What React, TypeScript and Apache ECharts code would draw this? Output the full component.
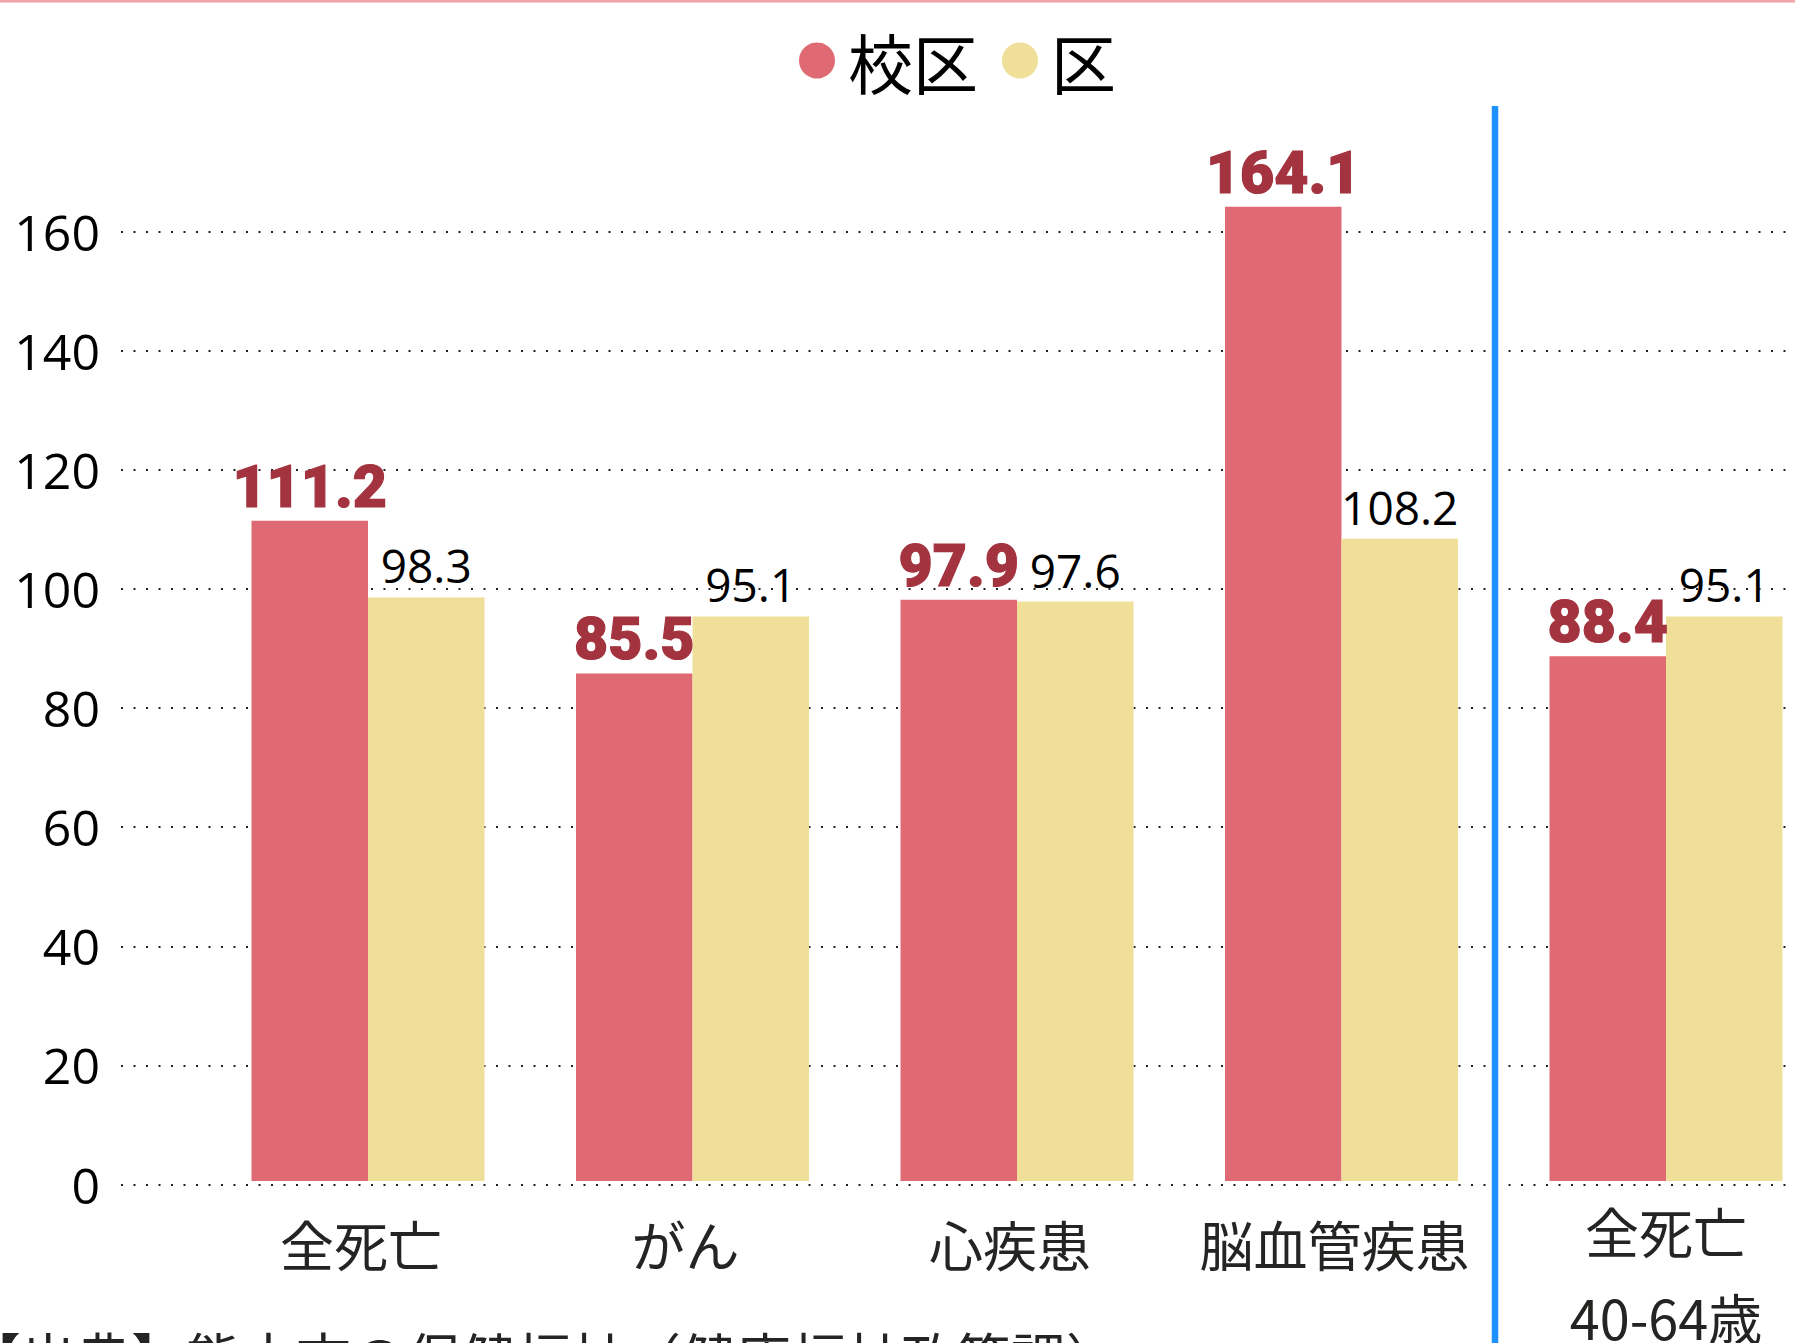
import React, { useEffect, useRef } from "react";
import * as echarts from "echarts";

const categories = ["全死亡", "がん", "心疾患", "脳血管疾患", "全死亡\n40-64歳"];
const schoolValues = [111.2, 85.5, 97.9, 164.1, 88.4];
const wardValues = [98.3, 95.1, 97.6, 108.2, 95.1];
const seriesNames = ["校区", "区"];
const yMin = 0;
const yMax = 180;
const yInterval = 20;
const sourceText = "【出典】熊本市の保健福祉（健康福祉政策課）";

const W = 1795;
const H = 1343;
const CW = 1840;
const CJK = '"Noto Sans CJK JP", "Noto Sans", sans-serif';
const LATIN = '"Open Sans", "Noto Sans", sans-serif';

export default function App() {
  const ref = useRef<HTMLDivElement>(null);
  useEffect(() => {
    if (!ref.current) return;
    const chart = echarts.init(ref.current, undefined, { renderer: "svg" });
    const plotTop = 112.4;
    const plotBottom = H - 1184.5;
    const option: any = {
      animation: false,
      backgroundColor: "#ffffff",
      legend: {
        data: seriesNames,
        icon: "circle",
        left: 794,
        top: 23,
        itemWidth: 52,
        itemHeight: 36,
        itemGap: 24,
        textStyle: { fontSize: 65, fontFamily: CJK, color: "#000" },
      },
      grid: [
        { left: 121, right: CW - W, top: plotTop, bottom: plotBottom },
        { left: 205.75, right: CW - 1828.25, top: plotTop, bottom: plotBottom },
      ],
      xAxis: [
        { type: "value", gridIndex: 0, min: 0, max: 1, show: false },
        {
          type: "category",
          gridIndex: 1,
          data: categories,
          axisLine: { show: false },
          axisTick: { show: false },
          axisLabel: {
            interval: 0,
            margin: 6,
            color: "#252423",
            fontFamily: CJK,
            fontSize: 54,
            formatter: (v: string) =>
              v.indexOf("\n") >= 0
                ? v.split("\n").map((s) => `{m|${s}}`).join("\n")
                : `{s|${v}}`,
            rich: {
              s: { fontSize: 54, lineHeight: 112, fontFamily: CJK, color: "#252423", padding: [0, 14, 0, 0] },
              m: { fontSize: 54, lineHeight: 86, fontFamily: CJK, color: "#252423" },
            },
          },
        },
      ],
      yAxis: [
        {
          type: "value",
          gridIndex: 0,
          min: yMin,
          max: yMax,
          interval: yInterval,
          axisLine: { show: false },
          axisTick: { show: false },
          axisLabel: {
            showMaxLabel: false,
            margin: 21,
            color: "#000",
            fontSize: 50,
            fontFamily: LATIN,
          },
          splitLine: {
            show: true,
            showMaxLine: false,
            lineStyle: { type: [2, 10.5], width: 2, color: "#222" },
          },
        },
        {
          type: "value",
          gridIndex: 1,
          min: yMin,
          max: yMax,
          interval: yInterval,
          show: false,
          splitLine: { show: false },
        },
      ],
      series: [
        {
          name: seriesNames[0],
          type: "bar",
          xAxisIndex: 1,
          yAxisIndex: 1,
          data: schoolValues,
          barGap: "0%",
          barCategoryGap: "28.2%",
          itemStyle: { color: "#DF6A73" },
          label: {
            show: true,
            position: "top",
            distance: 5,
            color: "#A3333F",
            fontSize: 59,
            fontWeight: 900,
            fontFamily: '"Roboto", "DejaVu Sans", sans-serif',
            textBorderColor: "#A3333F",
            textBorderWidth: 1.2,
            formatter: (p: any) => p.value.toFixed(1),
          },
        },
        {
          name: seriesNames[1],
          type: "bar",
          xAxisIndex: 1,
          yAxisIndex: 1,
          data: wardValues,
          barGap: "0%",
          barCategoryGap: "28.2%",
          itemStyle: { color: "#EFDF99" },
          label: {
            show: true,
            position: "top",
            distance: 9,
            color: "#000",
            fontSize: 46,
            fontFamily: LATIN,
            formatter: (p: any) => p.value.toFixed(1),
          },
        },
      ],
      graphic: [
        {
          type: "rect",
          shape: { x: 0, y: 0, width: W, height: 2.5 },
          style: { fill: "#F2A2AA" },
          z: 10,
        },
        {
          type: "line",
          shape: { x1: 1495, y1: 106, x2: 1495, y2: H },
          style: { stroke: "#1E90FF", lineWidth: 6.5 },
          z: 10,
        },
        {
          type: "text",
          x: -34,
          y: 1327,
          style: {
            text: sourceText,
            fontSize: 55,
            fontFamily: CJK,
            fill: "#252423",
            align: "left",
            verticalAlign: "top",
          },
          z: 10,
        },
      ],
    };
    chart.setOption(option);
    return () => chart.dispose();
  }, []);
  return (
    <div
      style={{ position: "absolute", left: 0, top: 0, width: W, height: H, overflow: "hidden" }}
    >
      <div ref={ref} style={{ width: CW, height: H }} />
    </div>
  );
}
